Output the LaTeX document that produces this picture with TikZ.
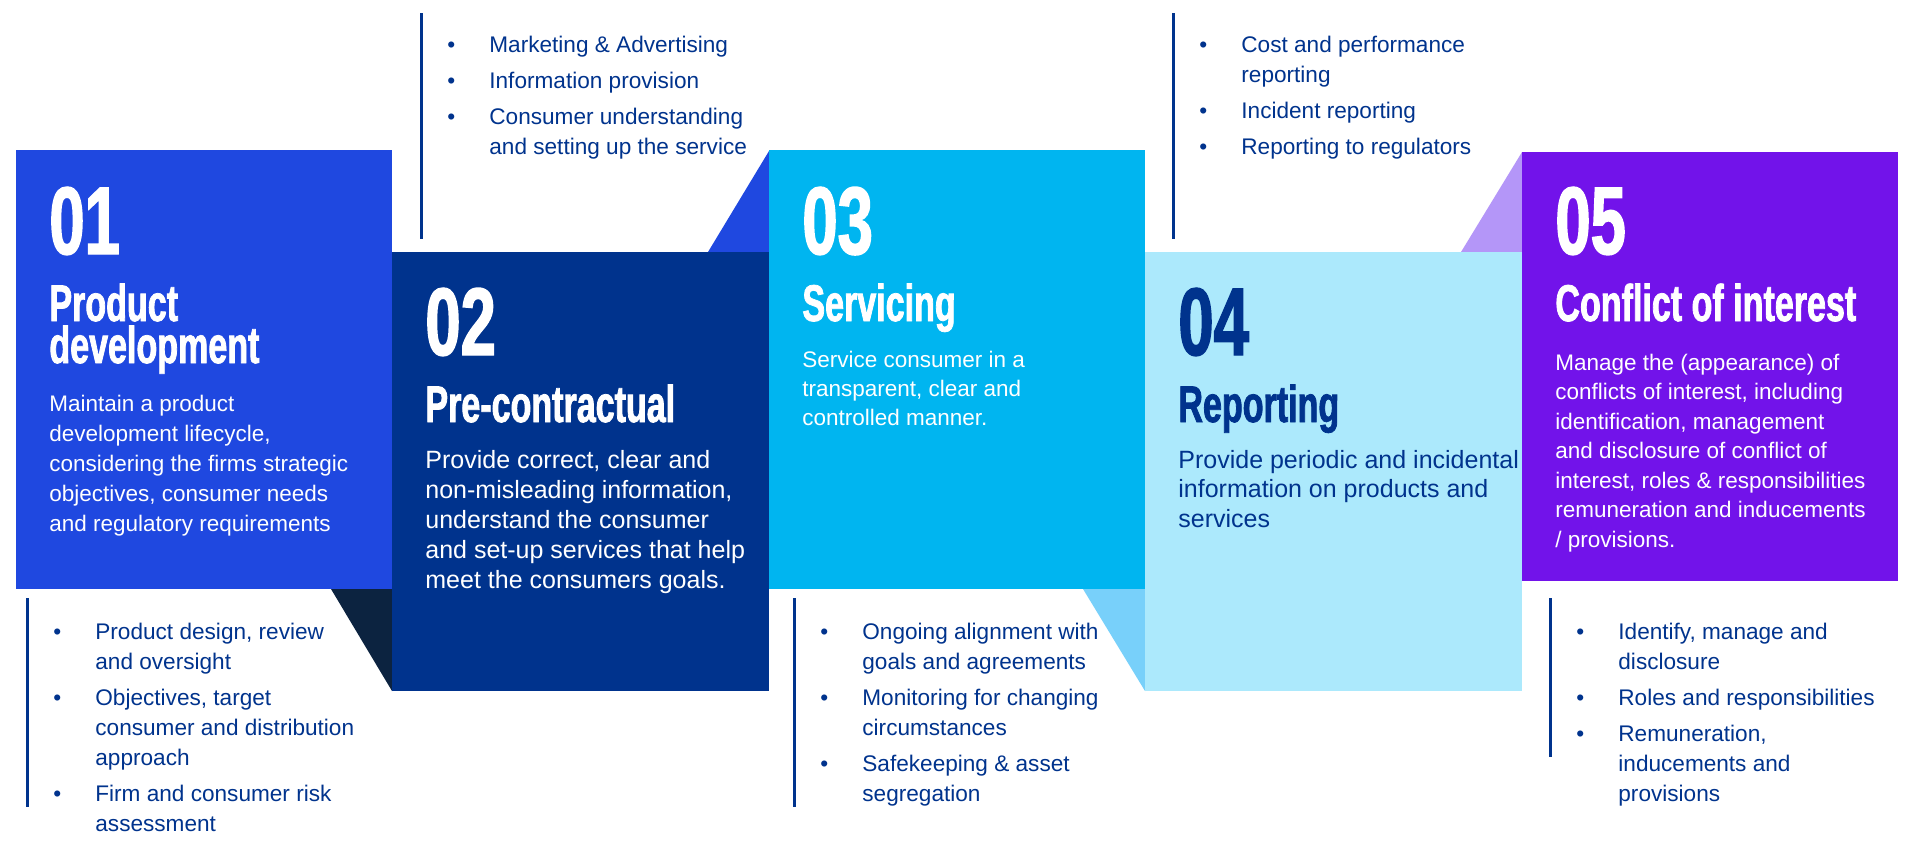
\documentclass[tikz,border=0pt]{standalone}
\usepackage{fontspec}
\setmainfont{Liberation Sans}
\newfontfamily\headfont[FakeStretch=0.66,FakeBold=1.5]{Liberation Sans}
\usepackage{xcolor}
\usepackage{tikz}
\usetikzlibrary{positioning,calc}

\definecolor{royal}{RGB}{31,72,224}
\definecolor{navy}{RGB}{0,51,141}
\definecolor{cyan}{RGB}{0,181,240}
\definecolor{skyblue}{RGB}{172,233,252}
\definecolor{violet}{RGB}{114,19,234}
\definecolor{inkfold}{RGB}{12,35,64}
\definecolor{skyfold}{RGB}{120,208,250}
\definecolor{lilacfold}{RGB}{180,150,248}

\newcommand{\litem}{\makebox[21pt][l]{\textbullet}}
\newcommand{\lcont}{\hspace*{21pt}}

% multi-line nodes sit on the baseline of their last line
\tikzset{
  numtext/.style={anchor=base west, inner sep=0, text=white,
    font=\headfont\bfseries\fontsize{48}{48}\selectfont},
  headtext/.style={anchor=base west, inner sep=0, align=left, text=white,
    font=\headfont\bfseries\fontsize{25.8}{21}\selectfont},
  bodytext/.style={anchor=base west, inner sep=0, align=left, text=white},
  listtext/.style={anchor=base west, inner sep=0, align=left, text=navy,
    font=\fontsize{11.3}{15}\selectfont},
  listbar/.style={navy, line width=1.5pt}
}

\begin{document}
\begin{tikzpicture}[x=0.5pt, y=-0.5pt]
    \useasboundingbox (0,0) rectangle (1920,847);
    \fill[white] (0,0) rectangle (1920,847);

    % Folds
    \fill[inkfold] (331,589) -- (392,589) -- (392,691) -- cycle;
    \fill[royal] (708,252) -- (769,151) -- (769,252) -- cycle;
    \fill[skyfold] (1083,589) -- (1145,589) -- (1145,691) -- cycle;
    \fill[lilacfold] (1461,252) -- (1522,152) -- (1522,252) -- cycle;

    % Blocks
    \fill[royal] (16,150) rectangle (392,589);
    \fill[navy] (392,252) rectangle (769,691);
    \fill[cyan] (769,150) rectangle (1145,589);
    \fill[skyblue] (1145,252) rectangle (1522,691);
    \fill[violet] (1522,152) rectangle (1898,581);

    % 01
    \node[numtext] (num1) at (49,254) {01};
    \node[headtext] (head1) at (49,363) {Product\\development};
    \node[bodytext, font=\fontsize{11.25}{15}\selectfont] (body1) at (49,531)
      {Maintain a product\\development lifecycle,\\considering the firms strategic\\objectives, consumer needs\\and regulatory requirements};

    % 02
    \node[numtext] (num2) at (425,355) {02};
    \node[headtext] (head2) at (425,422) {Pre-contractual};
    \node[bodytext, font=\fontsize{12.5}{15}\selectfont] (body2) at (425,588)
      {Provide correct, clear and\\non-misleading information,\\understand the consumer\\and set-up services that help\\meet the consumers goals.};

    % 03
    \node[numtext] (num3) at (802,254) {03};
    \node[headtext] (head3) at (802,321) {Servicing};
    \node[bodytext, font=\fontsize{11.25}{14.5}\selectfont] (body3) at (802,425)
      {Service consumer in a\\transparent, clear and\\controlled manner.};

    % 04
    \node[numtext, text=navy] (num4) at (1178,355) {04};
    \node[headtext, text=navy] (head4) at (1178,422) {Reporting};
    \node[bodytext, text=navy, font=\fontsize{12.5}{14.75}\selectfont] (body4) at (1178,527)
      {Provide periodic and incidental\\information on products and\\services};

    % 05
    \node[numtext] (num5) at (1555,254) {05};
    \node[headtext] (head5) at (1555,321) {Conflict of interest};
    \node[bodytext, font=\fontsize{11.25}{14.75}\selectfont] (body5) at (1555,547)
      {Manage the (appearance) of\\conflicts of interest, including\\identification, management\\and disclosure of conflict of\\interest, roles \& responsibilities\\remuneration and inducements\\/ provisions.};

    % Lists above
    \draw[listbar] (421,13) -- (421,239);
    \node[listtext] (list2) at (447,154)
      {\litem Marketing \& Advertising\\[3pt]\litem Information provision\\[3pt]\litem Consumer understanding\\\lcont and setting up the service};
    \draw[listbar] (1173,13) -- (1173,239);
    \node[listtext] (list4) at (1199,154)
      {\litem Cost and performance\\\lcont reporting\\[3pt]\litem Incident reporting\\[3pt]\litem Reporting to regulators};

    % Lists below
    \draw[listbar] (27,598) -- (27,807);
    \node[listtext] (list1) at (53,831)
      {\litem Product design, review\\\lcont and oversight\\[3pt]\litem Objectives, target\\\lcont consumer and distribution\\\lcont approach\\[3pt]\litem Firm and consumer risk\\\lcont assessment};
    \draw[listbar] (794,598) -- (794,807);
    \node[listtext] (list3) at (820,801)
      {\litem Ongoing alignment with\\\lcont goals and agreements\\[3pt]\litem Monitoring for changing\\\lcont circumstances\\[3pt]\litem Safekeeping \& asset\\\lcont segregation};
    \draw[listbar] (1550,598) -- (1550,757);
    \node[listtext] (list5) at (1576,801)
      {\litem Identify, manage and\\\lcont disclosure\\[3pt]\litem Roles and responsibilities\\[3pt]\litem Remuneration,\\\lcont inducements and\\\lcont provisions};
\end{tikzpicture}
\end{document}
